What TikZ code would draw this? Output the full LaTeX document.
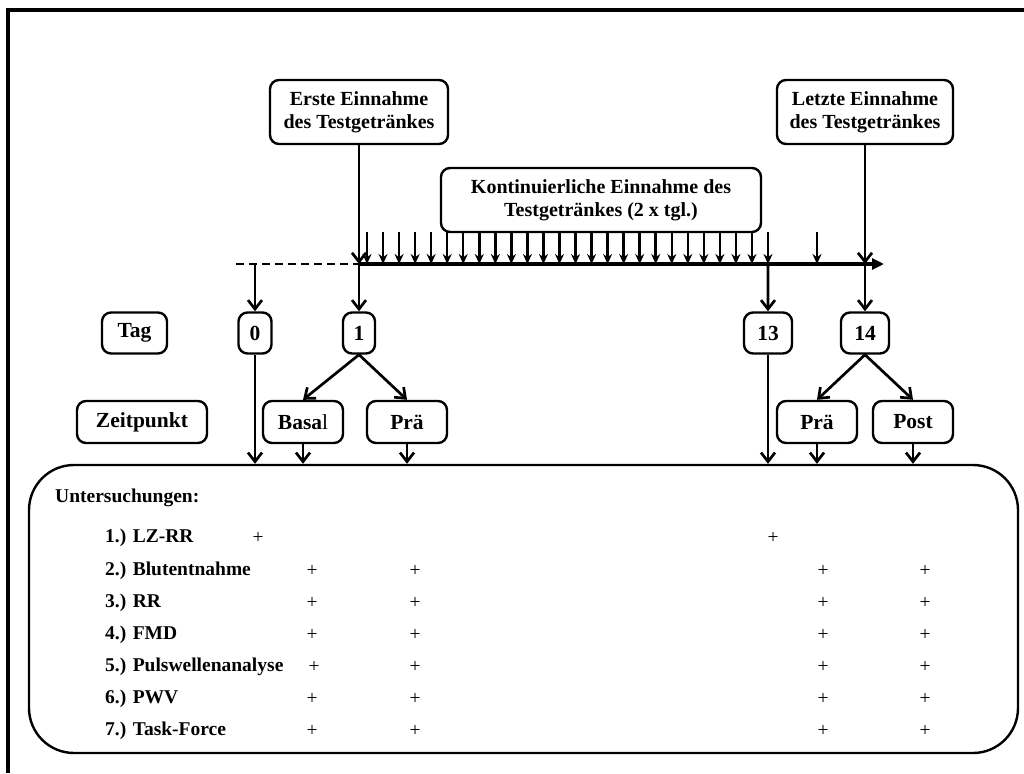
\documentclass[tikz,border=0pt]{standalone}
\usepackage{fontspec}
\setmainfont{Liberation Serif}
\usetikzlibrary{arrows.meta}
\tikzstyle{Arrow}=[-{Straight Barb[length=9pt,width=14pt]}, line width=2.7pt]
\tikzstyle{Dose}=[-{Stealth[length=10pt,width=9pt]}, line width=2.5pt]

\begin{document}
\begin{tikzpicture}[
  x=1pt, y=-1pt,
  Box/.style={draw, line width=2.4pt, rounded corners=9pt, inner sep=0, align=center,
    font=\fontsize{20}{23}\selectfont\bfseries},
  Day/.style={Box, minimum height=41pt, font=\fontsize{21.5}{25}\selectfont\bfseries},
  Item/.style={anchor=west, inner sep=0, font=\fontsize{19.5}{23}\selectfont\bfseries},
  Plus/.style={inner sep=0, font=\fontsize{19.5}{23}\selectfont}
]
\useasboundingbox (0,0) rectangle (1024,773);
\draw[line width=3.5pt] (8,773) -- (8,10) -- (1024,10);

% intake
\node[Box, minimum width=178pt, minimum height=64pt] (first) at (359,112) {Erste Einnahme\\des Testgetränkes};
\node[Box, minimum width=176pt, minimum height=64pt] (last) at (865,112) {Letzte Einnahme\\des Testgetränkes};
\node[Box, minimum width=320pt, minimum height=64pt] (daily) at (601,200) {Kontinuierliche Einnahme des\\Testgetränkes (2 x tgl.)};

% time axis
\coordinate (axstart) at (236,264);
\coordinate (axend) at (884,264);
\draw[line width=2.8pt, dash pattern=on 8pt off 5pt] (axstart) -- (first.south |- axstart);
\draw[line width=3.5pt, -{Triangle[length=12pt,width=11pt]}] (first.south |- axstart) -- (axend);
\foreach \i in {0,...,25} {
  \coordinate (dose\i) at (367+16.04*\i,232);
  \draw[Dose] (dose\i) -- (dose\i |- axstart);
}
\coordinate (dose26) at (817,232);
\draw[Dose] (dose26) -- (dose26 |- axstart);
\draw[Arrow] (first.south) -- (first.south |- axstart);
\draw[Arrow] (last.south) -- (last.south |- axstart);

% days
\node[Day, minimum width=65pt] (tag) at (134.5,333) {Tag};
\node[Day, minimum width=33pt] (d0) at (255,333) {0};
\node[Day, minimum width=32pt] (d1) at (359,333) {1};
\node[Day, minimum width=48pt] (d13) at (768,333) {13};
\node[Day, minimum width=48pt] (d14) at (865,333) {14};
\draw[Arrow] (d0.north |- axstart) -- (d0.north);
\draw[Arrow] (first.south |- axstart) -- (d1.north);
\draw[Arrow] (dose25 |- axstart) -- (d13.north);
\draw[Arrow] (last.south |- axstart) -- (d14.north);

% time points
\node[Day, minimum width=130pt, minimum height=42pt] (zeit) at (142,422) {Zeitpunkt};
\node[Day, minimum width=80pt, minimum height=42pt] (basal) at (303,422) {Basa{\mdseries l}};
\node[Day, minimum width=80pt, minimum height=42pt] (pre1) at (407,422) {Prä};
\node[Day, minimum width=80pt, minimum height=42pt] (pre2) at (817,422) {Prä};
\node[Day, minimum width=80pt, minimum height=42pt] (post) at (913,422) {Post};
\draw[Arrow] (d1.south) -- (basal.north);
\draw[Arrow] (d1.south) -- (pre1.north);
\draw[Arrow] (d14.south) -- (pre2.north);
\draw[Arrow] (d14.south) -- (post.north);

% examinations
\node[draw, line width=2.4pt, rounded corners=45pt, inner sep=0,
  minimum width=989pt, minimum height=288pt] (exams) at (523.5,609) {};
\draw[Arrow] (d0.south) -- (d0.south |- exams.north);
\draw[Arrow] (d13.south) -- (d13.south |- exams.north);
\draw[Arrow] (basal.south) -- (basal.south |- exams.north);
\draw[Arrow] (pre1.south) -- (pre1.south |- exams.north);
\draw[Arrow] (pre2.south) -- (pre2.south |- exams.north);
\draw[Arrow] (post.south) -- (post.south |- exams.north);

\node[Item] (exhead) at (55,498) {Untersuchungen:};
\foreach \n/\txt/\y in {1/LZ-RR/538, 2/Blutentnahme/571, 3/RR/603, 4/FMD/635,
    5/Pulswellenanalyse/667, 6/PWV/699, 7/Task-Force/731}
  \node[Item] (ex\n) at (105,\y) {\n.) \txt};
\node[Plus] (p1-a) at (258,538) {+};
\node[Plus] (p1-b) at (773,538) {+};
\foreach \n/\x/\y in {2/312/571, 3/312/603, 4/312/635, 5/314/667, 6/312/699, 7/312/731} {
  \node[Plus] (p\n-a) at (\x,\y) {+};
  \node[Plus] (p\n-b) at (415,\y) {+};
  \node[Plus] (p\n-c) at (823,\y) {+};
  \node[Plus] (p\n-d) at (925,\y) {+};
}

\end{tikzpicture}
\end{document}
